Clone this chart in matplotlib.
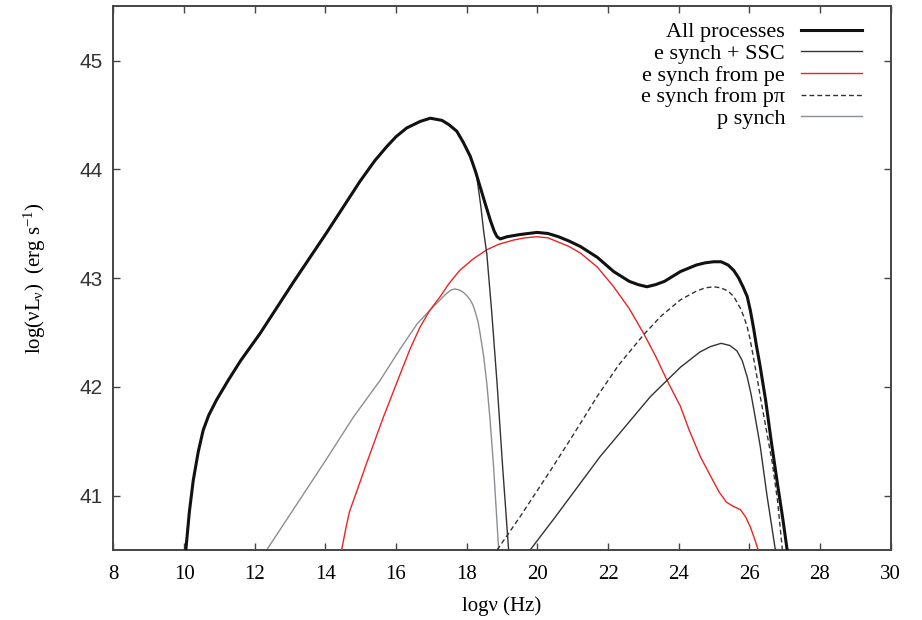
import numpy as np
import matplotlib
matplotlib.use("Agg")
import matplotlib.pyplot as plt

# ---- data (log nu [Hz], log nuL_nu [erg/s]) ----
all_x = [10.05, 10.15, 10.26, 10.40, 10.54, 10.70, 10.92, 11.25, 11.60, 12.15,
         13.09, 14.04, 14.98, 15.40, 15.74, 16.00, 16.30, 16.68, 16.97, 17.30,
         17.50, 17.72, 17.90, 18.10, 18.25, 18.38, 18.50, 18.67, 18.78, 18.86,
         18.95, 19.14, 19.50, 19.99, 20.30, 20.60, 20.90, 21.22, 21.70, 22.16,
         22.60, 22.85, 23.10, 23.35, 23.60, 24.05, 24.50, 24.75, 24.99, 25.20,
         25.40, 25.56, 25.70, 25.82, 25.94, 26.03, 26.12, 26.20, 26.30, 26.46,
         26.62, 26.80, 26.95, 27.10]
all_y = [40.50, 40.85, 41.14, 41.40, 41.60, 41.74, 41.88, 42.06, 42.24, 42.49,
         42.96, 43.42, 43.89, 44.08, 44.21, 44.30, 44.38, 44.44, 44.47, 44.45,
         44.41, 44.35, 44.25, 44.12, 43.98, 43.84, 43.71, 43.53, 43.43, 43.38,
         43.36, 43.38, 43.40, 43.42, 43.41, 43.38, 43.34, 43.29, 43.19, 43.06,
         42.97, 42.94, 42.92, 42.94, 42.97, 43.06, 43.12, 43.14, 43.15, 43.15,
         43.12, 43.07, 43.00, 42.92, 42.83, 42.70, 42.54, 42.38, 42.20, 41.88,
         41.50, 41.10, 40.78, 40.43]

ssc_x = [10.05, 10.15, 10.26, 10.40, 10.54, 10.70, 10.92, 11.25, 11.60, 12.15,
         13.09, 14.04, 14.98, 15.40, 15.74, 16.00, 16.30, 16.68, 16.97, 17.30,
         17.50, 17.72, 17.90, 18.10, 18.20, 18.29, 18.40, 18.48, 18.57, 18.71,
         18.86, 19.02, 19.22,
         19.50,
         19.75, 20.50, 21.78, 23.20, 24.05, 24.60, 24.90, 25.20, 25.45, 25.65,
         25.80, 25.94, 26.05, 26.15, 26.31, 26.50, 26.76]
ssc_y = [40.50, 40.85, 41.14, 41.40, 41.60, 41.74, 41.88, 42.06, 42.24, 42.49,
         42.96, 43.42, 43.89, 44.08, 44.21, 44.30, 44.38, 44.44, 44.47, 44.45,
         44.41, 44.35, 44.25, 44.12, 44.03, 43.92, 43.66, 43.43, 43.22, 42.68,
         42.03, 41.25, 40.35,
         np.nan,
         40.48, 40.80, 41.36, 41.91, 42.18, 42.32, 42.37, 42.40, 42.38, 42.33,
         42.24, 42.09, 41.93, 41.75, 41.45, 41.00, 40.45]

pe_x = [14.46, 14.58, 14.68, 14.90, 15.17, 15.64, 16.12, 16.40, 16.68, 16.95,
        17.25, 17.50, 17.80, 18.20, 18.57, 18.90, 19.33, 19.65, 19.99, 20.30,
        20.60, 20.90, 21.22, 21.70, 22.16, 22.60, 23.01, 23.35, 23.67, 24.05,
        24.30, 24.61, 24.95, 25.15, 25.35, 25.55, 25.75, 25.90, 26.03, 26.15,
        26.30]
pe_y = [40.50, 40.70, 40.85, 41.05, 41.30, 41.72, 42.12, 42.35, 42.55, 42.70,
        42.83, 42.95, 43.07, 43.18, 43.26, 43.31, 43.35, 43.37, 43.38, 43.37,
        43.33, 43.29, 43.23, 43.10, 42.92, 42.72, 42.49, 42.28, 42.06, 41.82,
        41.60, 41.36, 41.15, 41.03, 40.94, 40.90, 40.87, 40.80, 40.71, 40.60,
        40.45]

ppi_x = [18.86, 19.50, 20.37, 21.00, 21.69, 22.30, 23.01, 23.50, 24.05, 24.50,
         24.75, 24.99, 25.20, 25.40, 25.56, 25.75, 25.85, 25.94, 26.02, 26.10,
         26.20, 26.31, 26.50, 26.65, 26.80, 26.95]
ppi_y = [40.50, 40.80, 41.23, 41.55, 41.91, 42.20, 42.48, 42.65, 42.80, 42.88,
         42.91, 42.92, 42.91, 42.88, 42.83, 42.72, 42.64, 42.55, 42.44, 42.30,
         42.12, 41.91, 41.57, 41.30, 40.95, 40.45]

psyn_x = [12.34, 14.00, 14.79, 15.55, 16.12, 16.60, 17.06, 17.25, 17.40, 17.55,
          17.67, 17.80, 17.90, 18.00, 18.10, 18.18, 18.25, 18.32, 18.38, 18.48,
          18.57, 18.66, 18.76, 18.83, 18.92]
psyn_y = [40.50, 41.32, 41.72, 42.06, 42.35, 42.58, 42.74, 42.80, 42.85, 42.89,
          42.90, 42.89, 42.87, 42.84, 42.80, 42.75, 42.68, 42.60, 42.49, 42.28,
          42.03, 41.70, 41.27, 40.90, 40.42]

x_ticks = np.arange(8, 31, 2)
y_ticks = [41, 42, 43, 44, 45]

plt.rcParams["font.family"] = ["Liberation Serif", "DejaVu Serif"]
plt.rcParams["mathtext.fontset"] = "custom"
plt.rcParams["mathtext.rm"] = "Liberation Serif"
plt.rcParams["mathtext.it"] = "Liberation Serif:italic"
plt.rcParams["mathtext.default"] = "rm"

fig = plt.figure(figsize=(9.22, 6.2), dpi=100)
ax = fig.add_axes([0.123, 0.113, 0.843, 0.877])

ax.plot(all_x, all_y, color="#111111", lw=2.2, label="All processes", zorder=5)
ax.plot(ssc_x, ssc_y, color="#333333", lw=1.0, label="e synch + SSC", zorder=4)
ax.plot(pe_x, pe_y, color="#ee2222", lw=1.0, label="e synch from pe", zorder=3)
ax.plot(ppi_x, ppi_y, color="#333333", lw=1.0, dashes=(3.5, 2.2),
        label="e synch from pπ", zorder=3)
ax.plot(psyn_x, psyn_y, color="#8a8f94", lw=1.0, label="p synch", zorder=2)

ax.set_xlim(8, 30)
ax.set_ylim(40.5, 45.5)
ax.set_xticks(x_ticks)
ax.set_yticks(y_ticks)
ax.tick_params(direction="in", length=5, width=1.0, top=True, right=True,
               color="#444444", labelsize=15)
ax.tick_params(axis="x", pad=11)
ax.tick_params(axis="y", pad=8)
for lab in ax.get_yticklabels():
    lab.set_family(["Liberation Sans", "DejaVu Sans"])
    lab.set_color("#333333")
for sp in ax.spines.values():
    sp.set_linewidth(1.4)
    sp.set_color("#444444")

ax.set_xlabel("logν (Hz)", fontsize=15, labelpad=9)
ax.set_ylabel("log(νL$_{ν}$)  (erg s$^{-1}$)", fontsize=15, labelpad=22)

leg = ax.legend(loc="upper right", bbox_to_anchor=(0.983, 1.0), frameon=False,
                markerfirst=False, fontsize=16, handlelength=2.75,
                handletextpad=0.7, labelspacing=0.05, borderaxespad=0.3)

fig.savefig("out.png", dpi=100)
